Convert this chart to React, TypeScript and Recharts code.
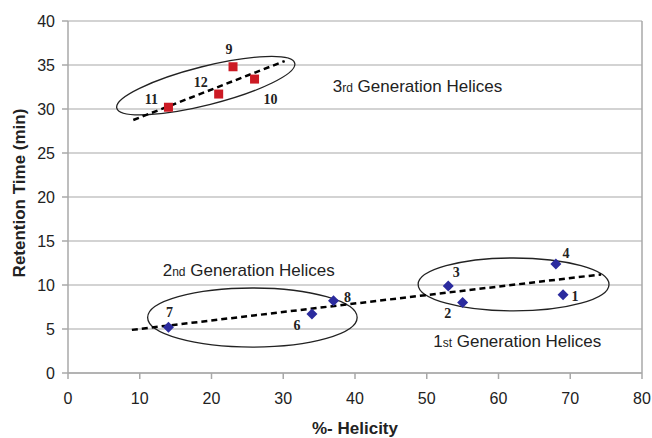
import React from 'react';
import {
  ComposedChart,
  Scatter,
  XAxis,
  YAxis,
  CartesianGrid,
  ReferenceLine,
  ReferenceArea,
  ReferenceDot,
} from 'recharts';

// 3rd generation helices (red squares)
const gen3Ids = ['9', '10', '11', '12'];
const gen3X = [23, 26, 14, 21];
const gen3Y = [34.8, 33.4, 30.2, 31.7];

// 1st and 2nd generation helices (blue diamonds)
const gen12Ids = ['1', '2', '3', '4', '6', '7', '8'];
const gen12X = [69, 55, 53, 68, 34, 14, 37];
const gen12Y = [8.9, 8.0, 9.9, 12.4, 6.7, 5.2, 8.2];

// dashed trend lines (end points)
const trendTopX = [9.1, 30.2];
const trendTopY = [28.75, 35.45];
const trendLowX = [8.9, 74.3];
const trendLowY = [4.9, 11.2];

const xTicks = [0, 10, 20, 30, 40, 50, 60, 70, 80];
const yTicks = [0, 5, 10, 15, 20, 25, 30, 35, 40];

const gen3 = gen3Ids.map((id, i) => ({ id, x: gen3X[i], y: gen3Y[i] }));
const gen12 = gen12Ids.map((id, i) => ({ id, x: gen12X[i], y: gen12Y[i] }));

// where each point number sits relative to its marker (px)
const labelOffset: { [id: string]: [number, number] } = {
  '9': [-4, -18],
  '12': [-18, -12],
  '11': [-17, -8],
  '10': [16, 20],
  '7': [1, -15],
  '6': [-15, 11],
  '8': [14, -4],
  '3': [8, -14],
  '2': [-15, 10],
  '4': [10, -11],
  '1': [12, 1],
};

const SANS = '"Liberation Sans", Arial, sans-serif';
const SERIF = '"Liberation Serif", "Times New Roman", serif';
const GRID = '#a8a8a8';

const PointNumber = ({ cx, cy, id }: { cx: number; cy: number; id: string }) => {
  const [dx, dy] = labelOffset[id] || [0, -12];
  return (
    <text
      x={cx + dx}
      y={cy + dy}
      dy="0.35em"
      textAnchor="middle"
      fontFamily={SERIF}
      fontWeight="bold"
      fontSize={14}
      fill="#222"
    >
      {id}
    </text>
  );
};

const SquareShape = (props: any) => {
  const { cx, cy, payload } = props;
  return (
    <g>
      <rect x={cx - 4.5} y={cy - 4.5} width={9} height={9} fill="#cc1a24" />
      <PointNumber cx={cx} cy={cy} id={payload.id} />
    </g>
  );
};

const DiamondShape = (props: any) => {
  const { cx, cy, payload } = props;
  const r = 5.5;
  return (
    <g>
      <polygon
        points={`${cx},${cy - r} ${cx + r},${cy} ${cx},${cy + r} ${cx - r},${cy}`}
        fill="#2b2b9e"
      />
      <PointNumber cx={cx} cy={cy} id={payload.id} />
    </g>
  );
};

// ellipse drawn in the box given by the reference area
const BoxEllipse = (props: any) => {
  const { x, y, width, height } = props;
  return (
    <ellipse
      cx={x + width / 2}
      cy={y + height / 2}
      rx={width / 2}
      ry={height / 2}
      fill="none"
      stroke="#222"
      strokeWidth={1.3}
    />
  );
};

// tilted ellipse whose long axis is the box diagonal
const DiagEllipse = (props: any) => {
  const { x, y, width, height } = props;
  const a = Math.sqrt(width * width + height * height) / 2;
  const angle = (-Math.atan2(height, width) * 180) / Math.PI;
  const cx = x + width / 2;
  const cy = y + height / 2;
  return (
    <ellipse
      cx={cx}
      cy={cy}
      rx={a}
      ry={a * 0.21}
      transform={`rotate(${angle} ${cx} ${cy})`}
      fill="none"
      stroke="#222"
      strokeWidth={1.3}
    />
  );
};

const GenText = (lead: string, suffix: string) => (props: any) => (
  <text x={props.cx} y={props.cy} fontFamily={SANS} fontSize={17} fill="#222">
    {lead}
    <tspan fontSize={12}>{suffix}</tspan>
    {' Generation Helices'}
  </text>
);

const App: React.FC = () => {
  return (
    <div style={{ position: 'absolute', left: 0, top: 0, background: '#fff' }}>
      <ComposedChart
        width={652}
        height={438}
        margin={{ top: 21, right: 10, bottom: 0, left: 0 }}
      >
        <CartesianGrid vertical={false} stroke={GRID} strokeWidth={1.2} />
        <XAxis
          type="number"
          dataKey="x"
          domain={[0, 80]}
          ticks={xTicks}
          interval={0}
          height={65}
          tickSize={6}
          tickMargin={14}
          stroke={GRID}
          strokeWidth={1.5}
          tick={{ fontFamily: SANS, fontSize: 16, fill: '#222' }}
          label={{
            content: (p: any) => (
              <text
                x={p.viewBox.x + p.viewBox.width / 2}
                y={434}
                textAnchor="middle"
                fontFamily={SANS}
                fontWeight="bold"
                fontSize={17}
                fill="#222"
              >
                %- Helicity
              </text>
            ),
          }}
        />
        <YAxis
          type="number"
          dataKey="y"
          domain={[0, 40]}
          ticks={yTicks}
          interval={0}
          width={68}
          tickSize={6}
          tickMargin={7}
          stroke={GRID}
          strokeWidth={1.5}
          tick={{ fontFamily: SANS, fontSize: 16, fill: '#222' }}
          label={{
            content: (p: any) => {
              const cy = p.viewBox.y + p.viewBox.height / 2 - 4;
              return (
                <text
                  x={19}
                  y={cy}
                  transform={`rotate(-90 19 ${cy})`}
                  textAnchor="middle"
                  dominantBaseline="central"
                  fontFamily={SANS}
                  fontWeight="bold"
                  fontSize={17}
                  fill="#222"
                >
                  Retention Time (min)
                </text>
              );
            },
          }}
        />
        <ReferenceLine x={80} stroke={GRID} strokeWidth={1.5} />

        <ReferenceArea x1={6.8} x2={31.6} y1={30.1} y2={35.2} shape={DiagEllipse} />
        <ReferenceArea x1={11.1} x2={40.3} y1={2.95} y2={9.66} shape={BoxEllipse} />
        <ReferenceArea x1={48.8} x2={75.4} y1={7.05} y2={13.07} shape={BoxEllipse} />

        <ReferenceLine
          segment={[
            { x: trendTopX[0], y: trendTopY[0] },
            { x: trendTopX[1], y: trendTopY[1] },
          ]}
          stroke="#000"
          strokeWidth={2.5}
          strokeDasharray="6 4"
        />
        <ReferenceLine
          segment={[
            { x: trendLowX[0], y: trendLowY[0] },
            { x: trendLowX[1], y: trendLowY[1] },
          ]}
          stroke="#000"
          strokeWidth={2.5}
          strokeDasharray="6 4"
        />

        <ReferenceDot x={36.9} y={31.9} r={0} shape={GenText('3', 'rd')} />
        <ReferenceDot x={13.2} y={11.0} r={0} shape={GenText('2', 'nd')} />
        <ReferenceDot x={50.9} y={2.95} r={0} shape={GenText('1', 'st')} />

        <Scatter data={gen3} shape={SquareShape} isAnimationActive={false} />
        <Scatter data={gen12} shape={DiamondShape} isAnimationActive={false} />
      </ComposedChart>
    </div>
  );
};

export default App;
